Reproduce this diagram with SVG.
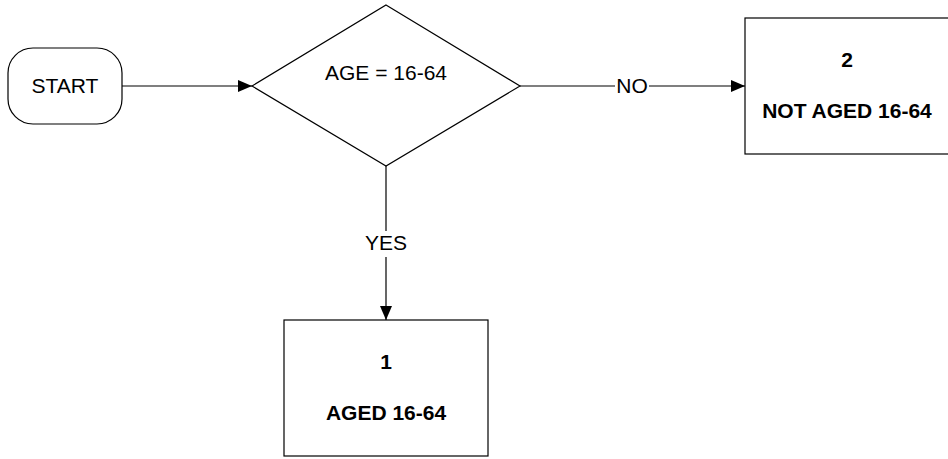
<svg xmlns="http://www.w3.org/2000/svg" width="948" height="459" viewBox="0 0 948 459">
<style>
.shape{fill:#fff;stroke:#000;stroke-width:1.2}
.t{font-family:"Liberation Sans",Arial,sans-serif;font-size:21px;fill:#000;text-anchor:middle}
.b{font-weight:bold}
.edge{stroke:#000;stroke-width:1.2;fill:none}
.lbl{fill:#fff}
</style>
<defs>
<marker id="arr" markerWidth="14" markerHeight="12" refX="14" refY="6" orient="auto" markerUnits="userSpaceOnUse">
<path d="M0,0 L14,6 L0,12 Z" fill="#000"/>
</marker>
</defs>
<rect width="948" height="459" fill="#fff"/>
<g id="connectors">
<line class="edge" x1="122" y1="86" x2="252" y2="86" marker-end="url(#arr)"/>
<line class="edge" x1="520" y1="86" x2="745" y2="86" marker-end="url(#arr)"/>
<rect class="lbl" x="615" y="74" width="34" height="24"/>
<text class="t" x="632" y="93">NO</text>
<line class="edge" x1="386" y1="166" x2="386" y2="320" marker-end="url(#arr)"/>
<rect class="lbl" x="364" y="231" width="44" height="26"/>
<text class="t" x="386" y="250">YES</text>
</g>
<g id="start">
<rect class="shape" x="8" y="48" width="114" height="76" rx="25" ry="25"/>
<text class="t" x="65" y="93">START</text>
</g>
<g id="decision">
<polygon class="shape" points="386,5 520,86 386,166 252,86"/>
<text class="t" x="386" y="80">AGE = 16-64</text>
</g>
<g id="box2">
<rect class="shape" x="745" y="18" width="206" height="136"/>
<text class="t b" x="847" y="67">2</text>
<text class="t b" x="847" y="118">NOT AGED 16-64</text>
</g>
<g id="box1">
<rect class="shape" x="284" y="320" width="204" height="136"/>
<text class="t b" x="386" y="369">1</text>
<text class="t b" x="386" y="420">AGED 16-64</text>
</g>
</svg>
